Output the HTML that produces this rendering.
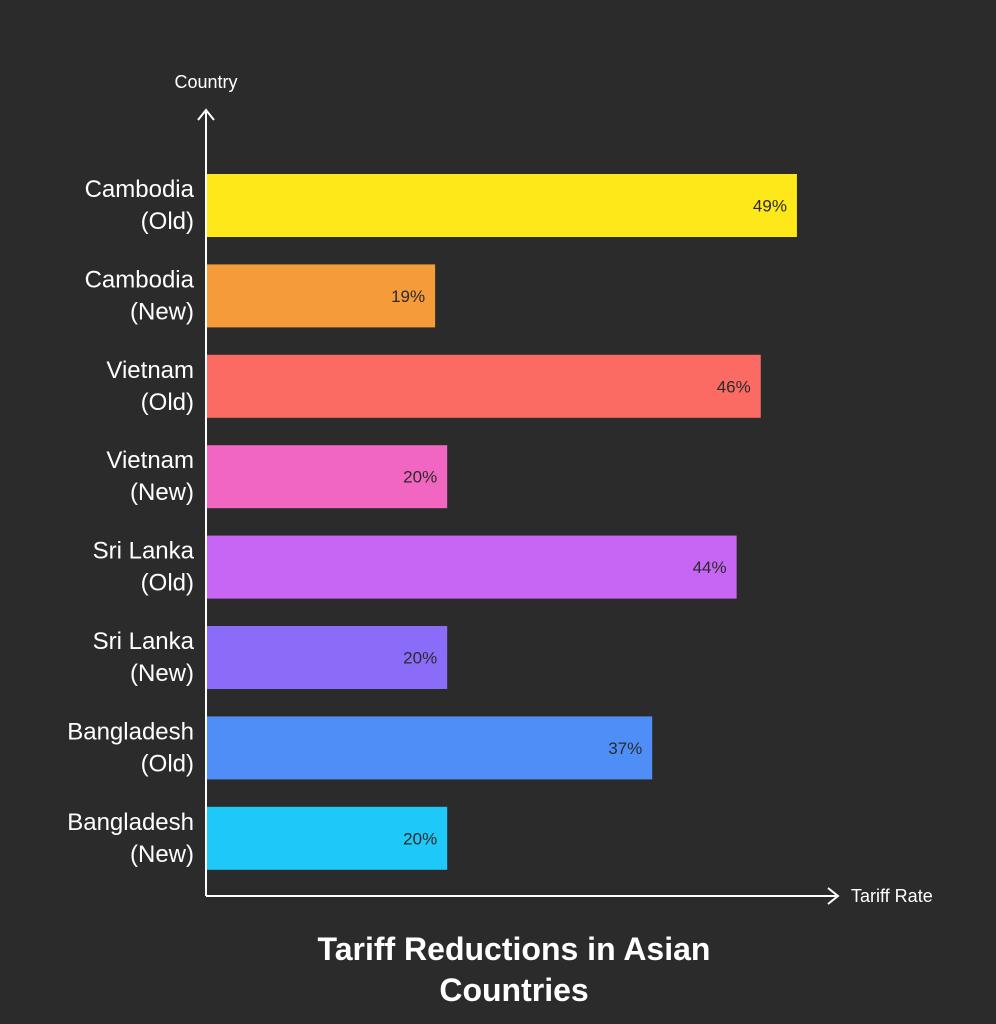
<!DOCTYPE html>
<html><head><meta charset="utf-8"><style>
body{margin:0;background:#2b2b2b;}
svg{display:block;font-family:"Liberation Sans",sans-serif;}
</style></head><body>
<svg id="chart" width="996" height="1024">
<rect width="996" height="1024" fill="#2b2b2b"/>
<g id="bars"></g>
<line x1="206" y1="896" x2="206" y2="112" stroke="#fff" stroke-width="2"/>
<polyline points="198,120 206,110 214,120" fill="none" stroke="#fff" stroke-width="2"/>
<line x1="206" y1="896" x2="836" y2="896" stroke="#fff" stroke-width="2"/>
<polyline points="828,888 838,896 828,904" fill="none" stroke="#fff" stroke-width="2"/>
<text x="206" y="88" fill="#fff" font-size="18" text-anchor="middle">Country</text>
<text x="851" y="902" fill="#fff" font-size="18">Tariff Rate</text>
<text x="514" y="960" fill="#fff" font-size="32" font-weight="bold" text-anchor="middle">Tariff Reductions in Asian</text>
<text x="514" y="1001" fill="#fff" font-size="32" font-weight="bold" text-anchor="middle">Countries</text>
</svg>
<script>
const countries=["Cambodia","Cambodia","Vietnam","Vietnam","Sri Lanka","Sri Lanka","Bangladesh","Bangladesh"];
const periods=["(Old)","(New)","(Old)","(New)","(Old)","(New)","(Old)","(New)"];
const values=[49,19,46,20,44,20,37,20];
const colors=["#FFE81A","#F59B3A","#FB6B64","#F066C0","#C766F5","#8A6CF8","#4F8EF7","#1EC8F9"];
const NS="http://www.w3.org/2000/svg";
const x0=206,pxPer=12.06,top0=174,pitch=90.4,bh=63;
const xs=v=>x0+v*pxPer;
const ys=i=>top0+i*pitch;
const g=document.getElementById('bars');
values.forEach((v,i)=>{
 const r=document.createElementNS(NS,'rect');
 r.setAttribute('x',x0);r.setAttribute('y',ys(i));
 r.setAttribute('width',xs(v)-x0);r.setAttribute('height',bh);
 r.setAttribute('fill',colors[i]);
 
 
 g.appendChild(r);
 const t=document.createElementNS(NS,'text');
 t.setAttribute('x',xs(v)-10);t.setAttribute('y',ys(i)+bh/2+6);
 t.setAttribute('text-anchor','end');t.setAttribute('font-size','17');t.setAttribute('fill','#2b2b2b');
 t.textContent=v+'%';
 
 
 g.appendChild(t);
 [countries[i],periods[i]].forEach((s,k)=>{
  const l=document.createElementNS(NS,'text');
  l.setAttribute('x',194);l.setAttribute('y',ys(i)+23+k*32);
  l.setAttribute('text-anchor','end');l.setAttribute('font-size','24');l.setAttribute('fill','#fff');
  l.textContent=s;
  
  
  g.appendChild(l);
 });
});
</script>
</body></html>
